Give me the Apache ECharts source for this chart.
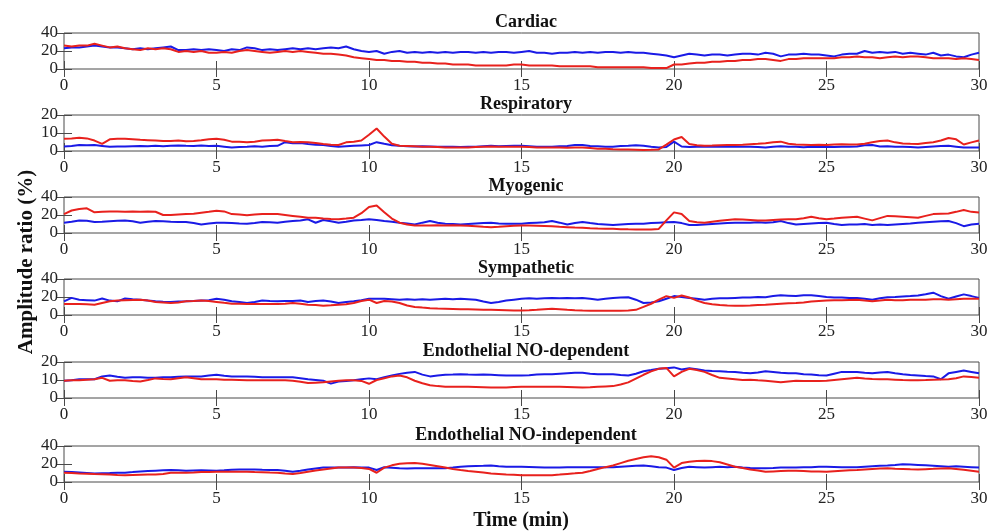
<!DOCTYPE html>
<html>
<head>
<meta charset="utf-8">
<script src="https://cdn.jsdelivr.net/npm/echarts@6/dist/echarts.min.js"></script>
<style>
  html, body { margin: 0; padding: 0; background: #fff; }
  #chart { width: 991px; height: 531px; }
</style>
</head>
<body>
<div id="chart"></div>
<script>
'use strict'

/************************ DATA *************************/
var timeMin = [
  0, 0.25, 0.5, 0.75, 1, 1.25, 1.5, 1.75, 2, 2.25, 2.5, 2.75, 3, 3.25, 3.5, 3.75,
  4, 4.25, 4.5, 4.75, 5, 5.25, 5.5, 5.75, 6, 6.25, 6.5, 6.75, 7, 7.25, 7.5, 7.75,
  8, 8.25, 8.5, 8.75, 9, 9.25, 9.5, 9.75, 10, 10.25, 10.5, 10.75, 11, 11.25, 11.5, 11.75,
  12, 12.25, 12.5, 12.75, 13, 13.25, 13.5, 13.75, 14, 14.25, 14.5, 14.75, 15, 15.25, 15.5, 15.75,
  16, 16.25, 16.5, 16.75, 17, 17.25, 17.5, 17.75, 18, 18.25, 18.5, 18.75, 19, 19.25, 19.5, 19.75,
  20, 20.25, 20.5, 20.75, 21, 21.25, 21.5, 21.75, 22, 22.25, 22.5, 22.75, 23, 23.25, 23.5, 23.75,
  24, 24.25, 24.5, 24.75, 25, 25.25, 25.5, 25.75, 26, 26.25, 26.5, 26.75, 27, 27.25, 27.5, 27.75,
  28, 28.25, 28.5, 28.75, 29, 29.25, 29.5, 29.75, 30
];
var xTicks = [0, 5, 10, 15, 20, 25, 30];

var cardiacBlue = [
  23, 24, 24, 25, 26, 25, 24, 24, 23, 22, 23, 22, 23, 24, 25, 21,
  21, 22, 21, 22, 21, 20, 22, 21, 24, 23, 21, 22, 21, 22, 23, 22,
  23, 22, 23, 24, 23, 25, 22, 20, 19, 20, 17, 19, 20, 18, 19, 18,
  19, 18, 19, 18, 19, 19, 18, 19, 18, 19, 19, 18, 19, 20, 18, 18,
  17, 18, 18, 19, 18, 19, 18, 19, 19, 18, 19, 18, 18, 17, 16, 15,
  13, 15, 17, 16, 15, 16, 16, 15, 16, 17, 17, 16, 18, 17, 14, 16,
  16, 17, 16, 16, 15, 14, 16, 17, 17, 20, 18, 19, 18, 19, 17, 18,
  17, 16, 18, 15, 16, 14, 13, 16, 18
];
var cardiacRed = [
  26, 25, 26, 26, 28, 26, 24, 25, 23, 22, 21, 23, 22, 23, 22, 19,
  20, 19, 20, 18, 18, 19, 18, 20, 21, 20, 19, 18, 19, 20, 19, 20,
  19, 18, 17, 17, 16, 15, 13, 12, 11, 10, 10, 9, 9, 8, 8, 7,
  7, 6, 6, 5, 5, 5, 4, 4, 4, 4, 4, 5, 5, 4, 4, 4,
  4, 3, 3, 3, 3, 3, 2, 2, 2, 2, 2, 2, 2, 1, 1, 1,
  5, 5, 6, 7, 7, 8, 8, 9, 9, 10, 10, 11, 11, 10, 9, 11,
  11, 12, 12, 12, 12, 12, 13, 13, 14, 13, 13, 12, 13, 14, 13, 14,
  14, 13, 12, 12, 12, 11, 12, 11, 10
];

var respBlue = [
  2.5, 2.8, 3.3, 3.2, 3.3, 2.8, 2.3, 2.5, 2.5, 2.7, 2.8, 2.6, 2.9, 2.7, 2.9, 3.1,
  2.9, 2.8, 3, 2.8, 2.9, 2.4, 1.9, 2.2, 2.3, 2.6, 2.4, 2.8, 2.9, 4.9, 4.3, 4.4,
  3.9, 3.5, 3.3, 2.8, 2.3, 2.6, 2.9, 3.1, 3.3, 4.9, 4, 3.2, 2.9, 2.7, 2.5, 2.6,
  2.5, 2.3, 2.4, 2.3, 2.2, 2.4, 2.3, 2.7, 2.9, 2.7, 2.8, 2.9, 2.9, 2.6, 2.3, 2.4,
  2.3, 2.6, 2.8, 3.3, 3.3, 2.8, 2.6, 2.3, 2.3, 2.8, 2.9, 3.2, 2.9, 2.3, 1.9, 2.2,
  5.2, 2.5, 2.2, 2.3, 2.3, 2.4, 2.5, 2.4, 2.5, 2.3, 2.4, 2.2, 1.9, 2.4, 2.7, 2.3,
  2.3, 2.1, 2.3, 2.2, 2.3, 2.2, 2.4, 2.3, 2.5, 3.2, 3.3, 2.5, 2.7, 2.4, 2.3, 2.2,
  1.9, 2.2, 2.5, 2.8, 2.9, 2.4, 1.9, 2, 1.9
];
var respRed = [
  6.8, 7, 7.4, 7, 5.8, 4, 6.5, 6.8, 6.8, 6.5, 6.2, 6, 5.8, 5.5, 5.5, 5.8,
  5.4, 5.6, 6, 6.5, 6.8, 6.2, 5.2, 5.2, 4.9, 5.2, 5.8, 6, 6.2, 5.5, 4.9, 5,
  4.9, 4.5, 3.9, 3.5, 3.3, 4.8, 5.2, 5.8, 9, 12.5, 8, 4, 2.9, 2.8, 2.6, 2.4,
  2.3, 2.2, 2, 2, 1.9, 2, 2.2, 2.4, 2.5, 2.4, 2.3, 2.4, 2.3, 2.2, 2, 2,
  1.9, 2, 1.8, 1.9, 1.9, 1.6, 1.3, 1.2, 1, 0.9, 0.8, 0.7, 0.6, 0.7, 0.9, 3.5,
  6.4, 7.8, 3.9, 3.2, 2.9, 3, 3.2, 3.3, 3.3, 3.5, 3.8, 4, 4.3, 4.8, 5.2, 4,
  3.6, 3.5, 3.4, 3.5, 3.4, 3.6, 3.8, 3.6, 3.6, 4, 4.9, 5.5, 5.8, 4.8, 4.2, 4,
  3.9, 4.5, 4.9, 5.8, 7.2, 6.5, 3.6, 4.8, 5.8
];

var myoBlue = [
  11.4, 12.5, 14, 13.5, 12.2, 12.5, 13, 13.5, 14, 13, 11.4, 12.5, 13.3, 13, 12.5, 12.2,
  12.2, 11, 9.5, 10.5, 11.4, 11.5, 11, 10.5, 10.3, 11, 12.2, 12, 11.4, 12.5, 13.3, 14,
  15.2, 11.4, 14.5, 13, 11.4, 12.5, 14, 14.5, 15.2, 14.5, 13.3, 12.5, 11.4, 10.5, 9.5, 11.5,
  13.3, 11.5, 10.3, 10, 9.5, 10, 10.5, 11, 11.4, 10.5, 10.3, 10.3, 10.3, 11, 11.5, 12,
  13.3, 11.5, 9.5, 11, 12.2, 11, 10, 9.5, 8.8, 9.5, 10, 10.3, 10.3, 11, 11.5, 12,
  12.2, 11, 8.8, 9, 9.5, 10, 10.5, 11, 11.4, 11.5, 11.4, 12, 11.4, 12, 13.3, 11,
  9.5, 10, 10.5, 11, 11.4, 10, 8.8, 9.5, 9.5, 10, 9, 9.5, 9, 9.5, 10, 10.5,
  11.4, 12, 12.5, 13, 13.3, 11, 7.6, 9.5, 10.3
];
var myoRed = [
  21, 25, 26.7, 27.4, 23, 23.5, 24, 24, 23.6, 24, 23.5, 24, 23.6, 20, 20, 20.5,
  21, 21.5, 22.5, 23.5, 24.8, 24, 21, 20.5, 19.8, 20.5, 21, 21, 21, 20, 19, 18,
  17, 17, 16, 15.5, 15.2, 16, 17, 22, 29, 30.5, 23, 16, 11.4, 9.5, 8.4, 8.4,
  8.4, 8.6, 8.4, 8.6, 8.4, 8, 7.6, 7, 6.5, 7, 7.6, 8, 8.4, 8.2, 8, 7.8,
  7.6, 7, 6.5, 6, 5.7, 5.3, 5, 4.8, 4.6, 4.3, 4.1, 4, 3.8, 4, 4.5, 14,
  22.9, 21, 13.3, 12, 11.4, 12.5, 13.5, 14.5, 15.2, 15, 14.5, 14, 14, 14.5, 15, 15.2,
  15.2, 16.5, 18, 16.5, 15.2, 16, 17, 17.5, 18, 16, 14, 16.5, 19, 18.5, 18, 17.5,
  17, 19, 21, 21.5, 21.7, 23.5, 25.5, 23.5, 22.9
];

var sympBlue = [
  15.2, 19, 17, 16.5, 16, 18.3, 16, 15.2, 18.3, 17.5, 17, 16, 15.2, 14.8, 14.5, 15,
  15.2, 15.5, 16, 16.5, 18, 17, 15.2, 14.5, 13.3, 14.5, 16, 15.5, 15.2, 15.5, 15.5, 16,
  14.5, 15.5, 16, 15, 13.3, 14.5, 15.2, 16.5, 18, 18, 18, 17.5, 17, 17.5, 17, 17.5,
  17, 17.5, 18, 17.5, 18, 17.5, 17, 15, 13.3, 14.5, 16, 17, 18, 18.5, 18, 18.5,
  19, 18.5, 19, 18.5, 19, 18, 17, 18, 19, 19.5, 19.8, 17, 13.3, 14, 15.2, 18,
  21, 20, 19, 18, 17, 18, 18.5, 18.5, 19, 19.5, 19.5, 20, 19.8, 21, 22, 21.5,
  21, 22, 22, 21, 20, 19.5, 19.5, 19, 19, 18, 17, 18.5, 19.8, 20, 20.5, 21,
  21.7, 23, 24.8, 21, 18, 20.5, 22.9, 21, 19
];
var sympRed = [
  12.2, 12.2, 12.2, 12, 11.4, 13.3, 15.2, 16, 16.4, 16.8, 17, 16, 14.5, 14, 13.3, 14,
  15.2, 15.5, 16, 15.5, 14.5, 13.5, 12.6, 12.4, 12.2, 12.2, 12.2, 12.2, 12.2, 12.5, 13.3, 12.5,
  11.4, 11, 10.3, 10.8, 11.4, 12, 13.3, 15.5, 17, 13.3, 15.5, 15, 13.3, 10.5, 9, 8.2,
  7.6, 7.2, 7, 6.8, 6.5, 6.3, 6.1, 5.9, 5.7, 5.5, 5.3, 5.1, 5, 5.3, 5.7, 6.3,
  6.9, 6.5, 5.8, 5.3, 5, 4.8, 4.7, 4.6, 4.6, 4.6, 5, 5.7, 9, 12.5, 17, 21,
  19, 21.7, 19.5, 16, 13.3, 12, 11, 10.5, 10.3, 10.3, 10.5, 11, 11.4, 12, 12.5, 13,
  13.3, 14, 15, 15.5, 16, 16.3, 16.5, 16.8, 17, 16, 15.2, 16, 17, 16.5, 16.5, 17,
  17, 17, 17.5, 17.5, 17, 17.5, 18, 18, 18
];

var endoDepBlue = [
  9.6, 9.8, 10.4, 10.4, 10.4, 12, 12.5, 11.8, 11.2, 11.5, 11.5, 11.3, 11.2, 11.5, 11.5, 11.8,
  12, 12, 12, 12.5, 12.9, 12.3, 12, 12, 12, 11.8, 11.5, 11.5, 11.5, 11.5, 11.5, 11,
  10.4, 10, 9.6, 8, 9.1, 9.5, 9.9, 10.4, 10.9, 10.4, 11.5, 12.5, 13.4, 14, 14.5, 13,
  12, 12.5, 12.9, 13, 13.2, 13, 12.9, 13, 12.9, 12.7, 12.5, 12.5, 12.5, 12.7, 13, 13.2,
  13.2, 13.5, 13.8, 14, 14, 13.5, 13.2, 13.2, 13.2, 12.8, 12.5, 13.5, 14.9, 15.5, 16.2, 16.5,
  17, 15.8, 16.5, 16, 15.3, 15, 14.8, 14.6, 14.5, 14, 13.7, 14.2, 14.9, 14.5, 14, 13.8,
  13.7, 13.2, 13, 12.7, 12.5, 13.5, 14.5, 14.5, 14.5, 14, 13.7, 14.2, 14.5, 13.8, 13.2, 12.8,
  12.5, 12.2, 12, 10.4, 13.7, 14.5, 15.3, 14.5, 13.7
];
var endoDepRed = [
  9.6, 9.8, 9.9, 10.2, 10.4, 11.2, 9.6, 9.8, 9.9, 9.5, 9.2, 10, 10.9, 10.6, 10.4, 11,
  11.5, 11, 10.4, 10.4, 10.4, 10.2, 10.1, 10, 9.9, 9.9, 9.9, 9.9, 9.9, 9.8, 9.6, 9,
  8.3, 8.5, 8.7, 9.2, 9.6, 9.8, 9.9, 9.5, 7.9, 10, 11, 12, 12.5, 11.5, 9.6, 8.2,
  7.1, 6.6, 6.3, 6.3, 6.3, 6.2, 6.1, 6, 5.9, 5.9, 5.9, 6.1, 6.3, 6.3, 6.3, 6.3,
  6.3, 6.2, 6.1, 6, 5.9, 6, 6.2, 6.4, 6.6, 7.5, 8.7, 10.8, 12.9, 14.8, 16.2, 16.7,
  12, 14.5, 16.2, 15.5, 14.5, 12.8, 11.2, 10.8, 10.4, 10, 10.2, 9.8, 9.6, 9.2, 8.7, 9.2,
  9.6, 9.5, 9.4, 9.5, 9.6, 10, 10.4, 10.8, 11.2, 10.8, 10.5, 10.4, 10.4, 10.2, 10, 9.9,
  9.9, 10, 10.2, 10.3, 10.4, 11, 12, 11.6, 11.2
];

var endoIndBlue = [
  11.4, 11, 10.5, 10, 9.5, 9.8, 10, 10.3, 10.3, 11, 11.8, 12.2, 12.6, 13, 13.3, 13,
  12.6, 12.8, 13, 12.8, 12.6, 13, 13.5, 13.8, 14, 13.8, 13.5, 13.3, 13.3, 12.5, 11.4, 12.5,
  14, 15, 16, 16, 16, 16.2, 16.4, 16.2, 16, 13.3, 16.4, 15.8, 15.2, 15, 15.2, 15.2,
  15.2, 15.2, 15.2, 16, 17, 17.5, 17.8, 18, 18.3, 17.5, 17, 17, 17, 16.8, 16.5, 16.2,
  16, 16.2, 16.4, 16.4, 16.4, 16.4, 16.4, 16.4, 16.4, 17, 17.5, 18, 18.3, 17.5, 16.5, 16,
  13.3, 15.5, 17, 16.5, 16, 16.5, 17, 16.5, 17, 16, 15.5, 15.2, 15.2, 15.5, 16, 16.2,
  16, 16.5, 16.5, 17, 17, 16.8, 16.5, 16.5, 16.4, 17, 17.5, 18, 18.3, 19, 19.8, 19.5,
  19, 18.5, 18, 17.5, 17, 17.5, 17, 16.5, 16
];
var endoIndRed = [
  10.3, 10, 9.5, 9.2, 8.8, 8.5, 8.2, 7.8, 7.6, 7.8, 8, 8.2, 8.4, 9, 10.3, 10.3,
  10.3, 10.6, 11, 11.2, 11.4, 11.4, 11.4, 11.4, 11.4, 11, 10.8, 10.5, 10.3, 9.5, 8.8, 10,
  11.4, 12.8, 14, 15, 16, 16, 16, 15.5, 14.5, 10.3, 16, 18.5, 20.2, 20.8, 21, 20.2,
  19, 17.5, 16, 14.5, 13.3, 12.3, 11.4, 10.5, 9.5, 9, 8.4, 8, 7.6, 7.5, 7.5, 7.5,
  7.6, 8.2, 9, 9.6, 10.3, 12.3, 14.5, 16.5, 18.3, 21, 23.6, 25.5, 27.4, 28.6, 27.5, 24.8,
  16, 21, 22.5, 23.2, 23.6, 23.2, 22, 19.5, 17, 15.5, 14, 12.8, 11.4, 11.8, 12.2, 12.6,
  12.6, 12.2, 11.8, 11.6, 11.4, 12, 12.6, 13, 13.3, 14, 14.5, 15, 15.2, 14.8, 14.5, 14.2,
  14, 14.3, 14.6, 15, 15.2, 14.5, 13.5, 12.5, 11.4
];

var panelTitles = ['Cardiac', 'Respiratory', 'Myogenic', 'Sympathetic',
  'Endothelial NO-dependent', 'Endothelial NO-independent'];
var yMax = [40, 20, 40, 40, 20, 40];
var yStep = [20, 10, 20, 20, 10, 20];
var blueSeries = [cardiacBlue, respBlue, myoBlue, sympBlue, endoDepBlue, endoIndBlue];
var redSeries = [cardiacRed, respRed, myoRed, sympRed, endoDepRed, endoIndRed];

/************************ LAYOUT *************************/
var font = 'Liberation Serif';
var frameColor = '#4a4a4a';
var gridTops = [33, 115, 197, 279, 362, 446];
var gridH = 36;

function pairs(arr) {
  return timeMin.map(function(t, i) { return [t, arr[i]]; });
}

var grids = [], xAxes = [], yAxes = [], series = [], titles = [];

panelTitles.forEach(function(name, i) {
  grids.push({
    left: 64, width: 915, top: gridTops[i], height: gridH,
    show: true, borderColor: frameColor, borderWidth: 1, backgroundColor: '#fff'
  });

  titles.push({
    text: name, left: 521, top: gridTops[i] - 25, textAlign: 'center',
    textStyle: { fontFamily: font, fontWeight: 'bold', fontSize: 18, color: '#111' }
  });

  var tickStyle = { show: true, inside: true, length: 8, lineStyle: { color: frameColor } };
  ['bottom', 'top'].forEach(function(pos) {
    xAxes.push({
      type: 'value', gridIndex: i, position: pos,
      min: xTicks[0], max: xTicks[xTicks.length - 1], interval: 5,
      axisLine: { show: false },
      axisTick: tickStyle,
      splitLine: { show: false },
      axisLabel: {
        show: pos === 'bottom', margin: 8,
        fontFamily: font, fontSize: 17, color: '#222'
      }
    });
  });
  ['left', 'right'].forEach(function(pos) {
    yAxes.push({
      type: 'value', gridIndex: i, position: pos,
      min: 0, max: yMax[i], interval: yStep[i],
      axisLine: { show: false },
      axisTick: tickStyle,
      splitLine: { show: false },
      axisLabel: {
        show: pos === 'left', margin: 6,
        fontFamily: font, fontSize: 17, color: '#222'
      }
    });
  });

  series.push({
    type: 'line', xAxisIndex: 2 * i, yAxisIndex: 2 * i,
    data: pairs(blueSeries[i]), showSymbol: false, symbol: 'none',
    lineStyle: { color: '#1a1ae6', width: 2 }, itemStyle: { color: '#1a1ae6' }
  });
  series.push({
    type: 'line', xAxisIndex: 2 * i, yAxisIndex: 2 * i,
    data: pairs(redSeries[i]), showSymbol: false, symbol: 'none',
    lineStyle: { color: '#e8211d', width: 2 }, itemStyle: { color: '#e8211d' }
  });
});

var chart = echarts.init(document.getElementById('chart'));

var option = {
  backgroundColor: '#fff',
  animation: false,
  title: titles,
  grid: grids,
  xAxis: xAxes,
  yAxis: yAxes,
  series: series,
  graphic: [
    {
      type: 'text', x: 16, y: 262, rotation: Math.PI / 2,
      style: {
        text: 'Amplitude ratio (%)', fontFamily: font, fontWeight: 'bold',
        fontSize: 21, fill: '#111', align: 'center', verticalAlign: 'top'
      }
    },
    {
      type: 'text', x: 521, y: 511,
      style: {
        text: 'Time (min)', fontFamily: font, fontWeight: 'bold',
        fontSize: 20, fill: '#111', align: 'center', verticalAlign: 'top'
      }
    }
  ]
};

chart.setOption(option);
</script>
</body>
</html>
